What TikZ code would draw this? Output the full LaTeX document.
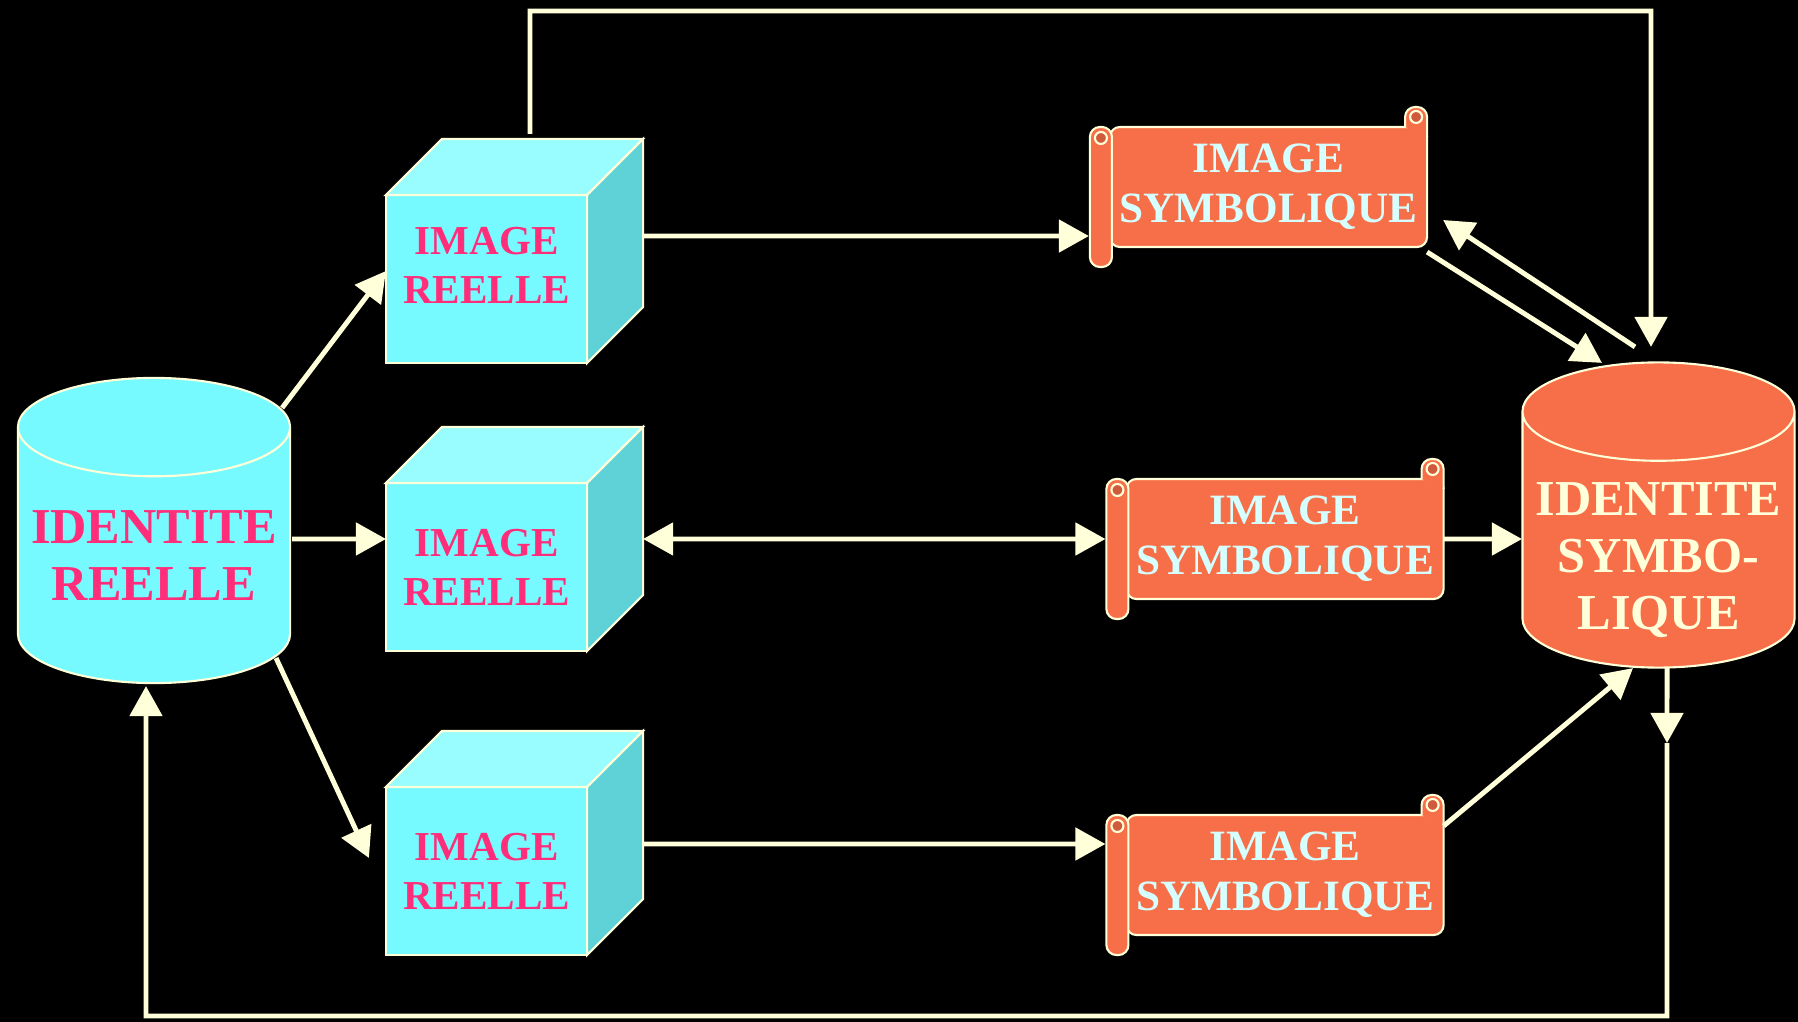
\documentclass[tikz,border=0pt]{standalone}
\usepackage{fontspec}
\setmainfont{Liberation Serif}
\usetikzlibrary{arrows.meta,shapes.geometric}
\definecolor{cream}{HTML}{FFFFDA}
\definecolor{cyanfront}{HTML}{77FAFF}
\definecolor{cyantop}{HTML}{99FCFF}
\definecolor{cyanside}{HTML}{5FD2D7}
\definecolor{rosetext}{HTML}{FF2D7A}
\definecolor{scrollfill}{HTML}{F76F48}
\definecolor{scrolldark}{HTML}{CF5A3C}
\definecolor{scrolltext}{HTML}{D6FFFF}
\newcommand{\dropline}[1]{\raisebox{-0.2cm}[\height][\depth]{#1}}
\begin{document}
\begin{tikzpicture}[x=0.01cm,y=-0.01cm,
  >={Triangle[length=3mm,width=3.2mm]},
  conn/.style={draw=cream,line width=1.4pt},
  face/.style={draw=cream,line width=0.6pt},
  realtxt/.style={text=rosetext,align=center,font=\bfseries\fontsize{11.7}{13.9}\selectfont},
  realbox/.style={face,fill=cyanfront,realtxt,inner sep=0pt,outer sep=0pt,
    minimum width=2.01cm,minimum height=1.68cm},
  symbox/.style={face,fill=scrollfill,text=scrolltext,align=center,inner sep=0pt,outer sep=0pt,
    rounded corners=0.1cm,minimum width=3.17cm,minimum height=1.2cm,font=\bfseries\fontsize{12.3}{14.2}\selectfont},
  iddb/.style={face,cylinder,shape border rotate=90,aspect=0.4,align=center,inner sep=0pt,outer sep=0pt,
    minimum width=2.72cm,minimum height=3.05cm,font=\bfseries\fontsize{14.3}{16.2}\selectfont}]
\fill[black] (0,0) rectangle (1798,1022);
% identities
\node[iddb,fill=cyanfront,text=rosetext,anchor=shape center] (lcyl) at (154,530.5) {IDENTITE\\REELLE};
\node[iddb,fill=scrollfill,text=cream,anchor=shape center] (rcyl) at (1658.5,515) {\dropline{IDENTITE}\\\dropline{SYMBO-}\\\dropline{LIQUE}};
% real images
\node[realbox,label={[realtxt,yshift=0.14cm]center:{IMAGE\\REELLE}}] (cube1) at (486.5,279) {};
\node[realbox] (cube2) at (486.5,567) {IMAGE\\REELLE};
\node[realbox] (cube3) at (486.5,871) {IMAGE\\REELLE};
\foreach \n in {1,2,3}{
  \filldraw[face,fill=cyantop] (cube\n.north west) -- ++(56,-56) -- ++(201,0) -- (cube\n.north east) -- cycle;
  \filldraw[face,fill=cyanside] (cube\n.north east) -- ++(56,-56) -- ++(0,168) -- (cube\n.south east) -- cycle;
}
% symbolic images
\node[symbox] (scroll1) at (1268.5,187) {IMAGE\\SYMBOLIQUE};
\node[symbox] (scroll2) at (1285,539) {IMAGE\\SYMBOLIQUE};
\node[symbox] (scroll3) at (1285,875) {IMAGE\\SYMBOLIQUE};
\foreach \n in {1,2,3}{
  \filldraw[face,fill=scrollfill,rounded corners=0.1cm] ([xshift=-0.2cm]scroll\n.north west) rectangle ([xshift=0.02cm,yshift=-0.2cm]scroll\n.south west);
  \filldraw[face,fill=scrolldark] ([xshift=-0.09cm,yshift=-0.11cm]scroll\n.north west) circle[radius=0.06cm];
  \filldraw[face,fill=scrollfill,rounded corners=0.1cm] ([xshift=-0.22cm]scroll\n.north east) -- ++(0,-20) -- ++(22,0) -- ([yshift=-0.1cm]scroll\n.north east);
  \filldraw[face,fill=scrolldark] ([xshift=-0.11cm,yshift=0.1cm]scroll\n.north east) circle[radius=0.06cm];
}
% loops
\coordinate (loopT) at (1651,11);
\coordinate (loopA) at (1667,743);
\coordinate (loopB) at (146,1016);
\draw[conn,->] ([xshift=0.435cm,yshift=0.61cm]cube1.north) |- (loopT) -- ([xshift=-0.075cm,yshift=1.68cm]rcyl.shape center);
\draw[conn,->] ([xshift=0.085cm]rcyl.bottom) -- (loopA);
\draw[conn,->] (loopA) |- (loopB) -- ([xshift=-0.08cm,yshift=-0.03cm]lcyl.bottom);
% left fan
\draw[conn,->] ([xshift=1.28cm,yshift=1.225cm]lcyl.shape center) -- ([yshift=0.08cm]cube1.west);
\draw[conn,->] ([xshift=1.38cm,yshift=-0.085cm]lcyl.shape center) -- ([yshift=0.28cm]cube2.west);
\draw[conn,->] ([xshift=1.22cm,yshift=-1.275cm]lcyl.shape center) -- ([xshift=-0.17cm,yshift=0.13cm]cube3.west);
% rows
\draw[conn,->] ([xshift=0.56cm,yshift=0.43cm]cube1.east) -- ([xshift=-0.21cm,yshift=-0.49cm]scroll1.west);
\draw[conn,<->] ([xshift=0.56cm,yshift=0.28cm]cube2.east) -- ([xshift=-0.21cm]scroll2.west);
\draw[conn,->] ([xshift=0.56cm,yshift=0.27cm]cube3.east) -- ([xshift=-0.21cm,yshift=0.31cm]scroll3.west);
% right fan
\draw[conn,->] ([yshift=-0.05cm]scroll1.south east) -- ([xshift=-0.565cm,yshift=1.52cm]rcyl.shape center);
\draw[conn,->] ([xshift=-0.235cm,yshift=1.68cm]rcyl.shape center) -- ([xshift=0.16cm,yshift=-0.33cm]scroll1.east);
\draw[conn,->] (scroll2.east) -- ([xshift=-1.365cm,yshift=-0.24cm]rcyl.shape center);
\draw[conn,->] ([yshift=0.49cm]scroll3.east) -- ([xshift=-0.255cm,yshift=-1.53cm]rcyl.shape center);
\end{tikzpicture}
\end{document}
